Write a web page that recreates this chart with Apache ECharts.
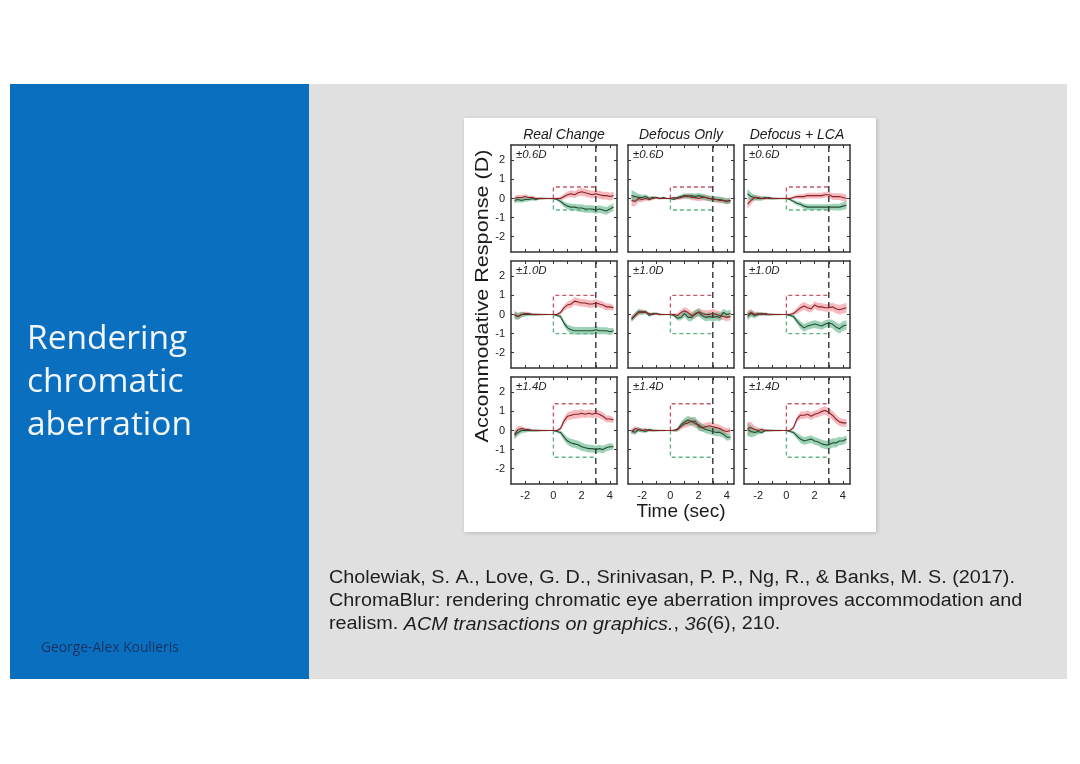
<!DOCTYPE html>
<html><head><meta charset="utf-8">
<script src="https://cdn.jsdelivr.net/npm/echarts@6/dist/echarts.min.js"></script>
<style>html,body{margin:0;padding:0;background:#fff;}#c{width:1080px;height:764px;}</style>
</head><body><div id="c"></div>
<script>
// ---------- data ----------
const times = [-2.75, -2.5, -2.25, -2, -1.75, -1.5, -1.25, -1, -0.75, -0.5, -0.25, 0, 0.25, 0.5, 0.75, 1, 1.25, 1.5, 1.75, 2, 2.25, 2.5, 2.75, 3, 3.25, 3.5, 3.75, 4, 4.25];
const conditions = ['Real Change', 'Defocus Only', 'Defocus + LCA'];
const amplitudes = [0.6, 1.0, 1.4];
const amplitudeLabels = ['±0.6D', '±1.0D', '±1.4D'];
const xTickValues = [-2, -1, 0, 1, 2, 3, 4];
const xLabelValues = [-2, 0, 2, 4];
const yTickValues = [-2, -1, 0, 1, 2];
const stimulusEnd = 3;
const yTitle = 'Accommodative Response (D)';
const xTitle = 'Time (sec)';
const slideTitle = 'Rendering\nchromatic\naberration';
const author = 'George-Alex Koulieris';

// Row ±0.6D
const red_real_06   = [0.0, 0.05, 0.05, 0.1, 0.05, 0.05, 0.0, 0.0, 0.0, 0.0, 0.0, 0.0, 0.0, 0.0, 0.1, 0.2, 0.25, 0.2, 0.3, 0.35, 0.3, 0.25, 0.2, 0.25, 0.2, 0.15, 0.15, 0.1, 0.15];
const green_real_06 = [-0.1, -0.05, -0.1, -0.05, -0.05, 0.0, -0.05, 0.0, 0.0, 0.0, 0.0, 0.0, -0.05, -0.15, -0.3, -0.4, -0.45, -0.45, -0.5, -0.5, -0.55, -0.55, -0.55, -0.6, -0.55, -0.6, -0.65, -0.55, -0.45];
const band_real_06  = [0.15, 0.15, 0.12, 0.12, 0.1, 0.1, 0.08, 0.06, 0.05, 0.04, 0.04, 0.04, 0.06, 0.1, 0.14, 0.16, 0.18, 0.18, 0.18, 0.2, 0.2, 0.2, 0.2, 0.2, 0.2, 0.2, 0.2, 0.2, 0.2];
const red_defocus_06   = [-0.1, -0.15, 0.0, -0.05, 0.0, -0.05, 0.0, 0.05, 0.0, 0.0, 0.0, 0.0, 0.05, 0.0, 0.05, 0.1, 0.15, 0.05, 0.05, 0.0, 0.05, 0.05, 0.0, -0.05, -0.05, -0.1, -0.1, -0.15, -0.1];
const green_defocus_06 = [0.15, 0.1, 0.05, 0.05, 0.1, 0.0, 0.05, 0.05, 0.0, 0.05, 0.0, 0.0, -0.05, 0.05, 0.1, 0.15, 0.1, 0.15, 0.1, 0.15, 0.1, 0.05, 0.0, 0.0, -0.05, -0.05, -0.1, -0.15, -0.1];
const band_defocus_06  = [0.3, 0.25, 0.18, 0.14, 0.12, 0.1, 0.08, 0.06, 0.05, 0.04, 0.04, 0.04, 0.06, 0.08, 0.1, 0.12, 0.14, 0.14, 0.15, 0.15, 0.15, 0.15, 0.15, 0.15, 0.15, 0.15, 0.15, 0.15, 0.15];
const red_lca_06   = [-0.3, -0.1, 0.05, 0.05, 0.0, 0.0, 0.05, 0.0, 0.0, 0.0, 0.0, 0.0, 0.0, 0.05, 0.1, 0.1, 0.1, 0.15, 0.15, 0.15, 0.15, 0.15, 0.2, 0.2, 0.1, 0.1, 0.1, 0.05, 0.0];
const green_lca_06 = [0.25, 0.1, 0.05, 0.0, 0.0, 0.05, 0.0, 0.0, 0.0, 0.0, 0.0, 0.0, -0.05, -0.15, -0.25, -0.3, -0.4, -0.45, -0.45, -0.45, -0.45, -0.45, -0.45, -0.45, -0.45, -0.45, -0.45, -0.4, -0.35];
const band_lca_06  = [0.25, 0.2, 0.15, 0.12, 0.1, 0.08, 0.07, 0.06, 0.05, 0.04, 0.04, 0.04, 0.06, 0.08, 0.1, 0.12, 0.14, 0.15, 0.15, 0.15, 0.15, 0.15, 0.15, 0.15, 0.17, 0.18, 0.18, 0.2, 0.2];

// Row ±1.0D
const red_real_10   = [0.0, -0.1, 0.0, 0.05, 0.05, 0.0, 0.0, 0.0, 0.0, 0.0, 0.0, 0.0, 0.0, 0.1, 0.35, 0.5, 0.55, 0.7, 0.65, 0.6, 0.6, 0.55, 0.55, 0.6, 0.55, 0.5, 0.4, 0.4, 0.35];
const green_real_10 = [-0.05, -0.1, 0.0, 0.0, 0.0, 0.0, 0.0, 0.0, 0.0, 0.0, 0.0, 0.0, -0.05, -0.1, -0.45, -0.7, -0.8, -0.85, -0.85, -0.85, -0.85, -0.85, -0.85, -0.8, -0.85, -0.85, -0.85, -0.9, -0.85];
const band_real_10  = [0.2, 0.18, 0.14, 0.1, 0.08, 0.07, 0.06, 0.05, 0.04, 0.04, 0.03, 0.03, 0.05, 0.1, 0.15, 0.18, 0.2, 0.2, 0.2, 0.2, 0.2, 0.2, 0.2, 0.2, 0.18, 0.18, 0.18, 0.18, 0.15];
const red_defocus_10   = [-0.2, -0.05, 0.1, 0.15, 0.1, 0.05, 0.0, 0.05, 0.0, 0.0, 0.0, 0.0, 0.0, -0.05, 0.1, 0.2, 0.1, -0.05, 0.0, 0.15, 0.05, 0.0, 0.0, 0.05, 0.0, -0.05, -0.1, -0.15, -0.1];
const green_defocus_10 = [-0.25, -0.05, 0.15, 0.1, 0.15, -0.05, 0.05, 0.05, 0.0, 0.0, 0.0, 0.0, -0.05, -0.2, -0.15, 0.05, -0.15, -0.15, 0.05, 0.1, -0.05, -0.15, -0.1, -0.15, -0.1, -0.15, 0.1, 0.0, 0.05];
const band_defocus_10  = [0.15, 0.15, 0.15, 0.12, 0.1, 0.08, 0.07, 0.06, 0.05, 0.04, 0.03, 0.03, 0.06, 0.12, 0.15, 0.18, 0.2, 0.2, 0.2, 0.2, 0.2, 0.22, 0.22, 0.22, 0.22, 0.22, 0.2, 0.2, 0.2];
const red_lca_10   = [0.0, 0.1, 0.0, 0.05, 0.0, 0.05, 0.0, 0.0, 0.0, 0.0, 0.0, 0.0, 0.0, 0.05, 0.2, 0.35, 0.45, 0.35, 0.3, 0.5, 0.4, 0.4, 0.35, 0.35, 0.4, 0.3, 0.25, 0.3, 0.35];
const green_lca_10 = [-0.1, 0.05, -0.05, 0.0, 0.05, 0.0, 0.0, 0.0, 0.0, 0.0, 0.0, 0.0, -0.05, -0.1, -0.35, -0.55, -0.7, -0.6, -0.55, -0.5, -0.55, -0.6, -0.5, -0.45, -0.5, -0.65, -0.75, -0.6, -0.55];
const band_lca_10  = [0.2, 0.18, 0.14, 0.1, 0.08, 0.07, 0.06, 0.05, 0.04, 0.04, 0.03, 0.03, 0.05, 0.1, 0.15, 0.2, 0.2, 0.2, 0.2, 0.2, 0.2, 0.2, 0.2, 0.2, 0.22, 0.24, 0.25, 0.25, 0.25];

// Row ±1.4D
const red_real_14   = [-0.2, 0.05, 0.1, 0.05, 0.05, 0.0, 0.0, 0.0, 0.0, 0.0, 0.0, 0.0, 0.0, 0.1, 0.5, 0.75, 0.8, 0.85, 0.85, 0.9, 0.85, 0.9, 0.85, 0.9, 0.85, 0.75, 0.6, 0.6, 0.55];
const green_real_14 = [-0.25, -0.1, 0.0, 0.0, 0.0, 0.0, 0.0, 0.0, 0.0, 0.0, 0.0, 0.0, -0.05, -0.1, -0.35, -0.55, -0.65, -0.7, -0.75, -0.85, -0.9, -0.95, -0.95, -1.0, -0.95, -1.0, -0.9, -0.85, -0.85];
const band_real_14  = [0.22, 0.18, 0.14, 0.1, 0.08, 0.07, 0.06, 0.05, 0.04, 0.04, 0.03, 0.03, 0.05, 0.1, 0.18, 0.2, 0.22, 0.22, 0.22, 0.22, 0.2, 0.2, 0.2, 0.2, 0.2, 0.2, 0.18, 0.18, 0.15];
const red_defocus_14   = [-0.1, 0.1, 0.05, 0.0, 0.05, 0.0, 0.0, 0.0, 0.0, 0.0, 0.0, 0.0, 0.0, 0.05, 0.2, 0.35, 0.4, 0.5, 0.35, 0.3, 0.15, 0.2, 0.25, 0.2, 0.15, 0.1, 0.0, -0.05, 0.0];
const green_defocus_14 = [0.0, -0.1, 0.05, 0.0, -0.05, 0.05, 0.0, 0.0, 0.0, 0.0, 0.0, 0.0, 0.0, 0.05, 0.3, 0.45, 0.55, 0.45, 0.5, 0.2, 0.15, 0.05, 0.0, -0.05, -0.1, -0.1, -0.2, -0.35, -0.35];
const band_defocus_14  = [0.15, 0.14, 0.12, 0.1, 0.08, 0.07, 0.06, 0.05, 0.04, 0.04, 0.03, 0.03, 0.05, 0.1, 0.15, 0.2, 0.22, 0.22, 0.22, 0.22, 0.2, 0.2, 0.2, 0.2, 0.2, 0.2, 0.18, 0.18, 0.15];
const red_lca_14   = [0.1, 0.15, 0.05, 0.0, 0.05, 0.0, 0.0, 0.0, 0.0, 0.0, 0.0, 0.0, 0.0, 0.15, 0.6, 0.8, 0.8, 0.85, 0.75, 0.85, 0.9, 1.0, 1.05, 0.95, 0.8, 0.6, 0.45, 0.4, 0.4];
const green_lca_14 = [0.05, -0.05, -0.1, -0.05, -0.1, 0.0, 0.0, 0.0, 0.0, 0.0, 0.0, 0.0, -0.05, -0.1, -0.3, -0.45, -0.55, -0.5, -0.45, -0.55, -0.6, -0.7, -0.75, -0.75, -0.65, -0.65, -0.55, -0.55, -0.45];
const band_lca_14  = [0.35, 0.3, 0.2, 0.14, 0.1, 0.08, 0.06, 0.05, 0.04, 0.04, 0.03, 0.03, 0.05, 0.1, 0.15, 0.2, 0.2, 0.2, 0.2, 0.2, 0.2, 0.22, 0.22, 0.24, 0.24, 0.24, 0.22, 0.2, 0.2];

const panelData = [
  [red_real_06, green_real_06, band_real_06], [red_defocus_06, green_defocus_06, band_defocus_06], [red_lca_06, green_lca_06, band_lca_06],
  [red_real_10, green_real_10, band_real_10], [red_defocus_10, green_defocus_10, band_defocus_10], [red_lca_10, green_lca_10, band_lca_10],
  [red_real_14, green_real_14, band_real_14], [red_defocus_14, green_defocus_14, band_defocus_14], [red_lca_14, green_lca_14, band_lca_14]
];

// ---------- layout & style ----------
const colLeft = [511, 628, 744];
const rowTop = [145, 261, 377];
const PW = 106, PH = 107;
const X_MIN = -3, X_MAX = 4.5, Y_MIN = -2.8, Y_MAX = 2.8;
const AX = '#333333';
const FONT = '"Liberation Sans", Arial, sans-serif';

const grids = [], xAxes = [], yAxes = [], series = [], graphics = [];

function bandSeries(p, mean, band, color) {
  const rows = times.map((t, i) => [t, mean[i] - band[i], mean[i] + band[i]]);
  return {
    type: 'custom', xAxisIndex: 2 * p, yAxisIndex: 2 * p, silent: true, z: 2,
    data: rows, encode: { x: 0, y: [1, 2] },
    renderItem: function (params, api) {
      if (params.dataIndex !== 0) return null;
      const pts = [];
      for (let i = 0; i < rows.length; i++) pts.push(api.coord([rows[i][0], rows[i][2]]));
      for (let i = rows.length - 1; i >= 0; i--) pts.push(api.coord([rows[i][0], rows[i][1]]));
      return { type: 'polygon', shape: { points: pts }, style: { fill: color } };
    }
  };
}

for (let r = 0; r < 3; r++) {
  for (let c = 0; c < 3; c++) {
    const p = r * 3 + c;
    const [red, green, band] = panelData[p];
    const amp = amplitudes[r];
    grids.push({ left: colLeft[c], top: rowTop[r], width: PW, height: PH, containLabel: false });
    const axLine = { show: true, onZero: false, lineStyle: { color: AX, width: 1.5 } };
    const tickStyle = { color: AX, width: 1 };
    xAxes.push({
      gridIndex: p, type: 'value', position: 'bottom', min: X_MIN, max: X_MAX,
      axisLine: axLine, splitLine: { show: false },
      axisTick: { show: true, inside: true, length: 3, customValues: xTickValues, lineStyle: tickStyle },
      axisLabel: { show: r === 2, customValues: xLabelValues, color: '#222', fontSize: 11, fontFamily: FONT, margin: 6 }
    });
    xAxes.push({
      gridIndex: p, type: 'value', position: 'top', min: X_MIN, max: X_MAX,
      axisLine: axLine, splitLine: { show: false },
      axisTick: { show: true, inside: true, length: 3, customValues: xTickValues, lineStyle: tickStyle },
      axisLabel: { show: false }
    });
    yAxes.push({
      gridIndex: p, type: 'value', position: 'left', min: Y_MIN, max: Y_MAX,
      axisLine: axLine, splitLine: { show: false },
      axisTick: { show: true, inside: true, length: 3, customValues: yTickValues, lineStyle: tickStyle },
      axisLabel: { show: c === 0, customValues: yTickValues, color: '#222', fontSize: 11, fontFamily: FONT, margin: 6 }
    });
    yAxes.push({
      gridIndex: p, type: 'value', position: 'right', min: Y_MIN, max: Y_MAX,
      axisLine: axLine, splitLine: { show: false },
      axisTick: { show: true, inside: true, length: 3, customValues: yTickValues, lineStyle: tickStyle },
      axisLabel: { show: false }
    });
    const ax = { xAxisIndex: 2 * p, yAxisIndex: 2 * p };
    series.push(bandSeries(p, red, band, 'rgba(238,115,125,0.5)'));
    series.push(bandSeries(p, green, band, 'rgba(60,165,110,0.5)'));
    series.push(Object.assign({
      type: 'line', data: [[0, 0], [0, amp], [stimulusEnd, amp]], symbol: 'none', silent: true, z: 3,
      lineStyle: { color: '#c45a68', width: 1.4, type: [4, 3] }
    }, ax));
    series.push(Object.assign({
      type: 'line', data: [[0, 0], [0, -amp], [stimulusEnd, -amp]], symbol: 'none', silent: true, z: 3,
      lineStyle: { color: '#5fb585', width: 1.4, type: [4, 3] }
    }, ax));
    series.push(Object.assign({
      type: 'line', data: [[stimulusEnd, Y_MIN], [stimulusEnd, Y_MAX]], symbol: 'none', silent: true, z: 3,
      lineStyle: { color: '#333', width: 1.4, type: [6, 4] }
    }, ax));
    series.push(Object.assign({
      type: 'line', data: times.map((t, i) => [t, green[i]]), symbol: 'none', silent: true, z: 4,
      lineStyle: { color: '#244f35', width: 1.1 }
    }, ax));
    series.push(Object.assign({
      type: 'line', data: times.map((t, i) => [t, red[i]]), symbol: 'none', silent: true, z: 4,
      lineStyle: { color: '#8a2228', width: 1.1 }
    }, ax));
    graphics.push({
      type: 'text', x: colLeft[c] + 5, y: rowTop[r] + 10, z: 50,
      style: { text: amplitudeLabels[r], font: 'italic 11.5px ' + FONT, fill: '#222', verticalAlign: 'middle', align: 'left' }
    });
  }
}
conditions.forEach((name, c) => {
  graphics.push({
    type: 'text', x: colLeft[c] + PW / 2, y: 135, z: 50,
    style: { text: name, font: 'italic 14px ' + FONT, fill: '#1a1a1a', align: 'center', verticalAlign: 'middle' }
  });
});
graphics.push({
  type: 'text', x: 483, y: 296, rotation: Math.PI / 2, scaleX: 1.2, z: 50,
  style: { text: yTitle, font: '18px ' + FONT, fill: '#1a1a1a', align: 'center', verticalAlign: 'middle' }
});
graphics.push({
  type: 'text', x: 681, y: 512, z: 50,
  style: { text: xTitle, font: '19px ' + FONT, fill: '#1a1a1a', align: 'center', verticalAlign: 'middle' }
});

const slide = [
  { type: 'rect', z: -30, shape: { x: 10, y: 84, width: 1057, height: 595 }, style: { fill: '#e0e0e0' } },
  { type: 'rect', z: -29, shape: { x: 10, y: 84, width: 299, height: 595 }, style: { fill: '#0b6fc0' } },
  { type: 'rect', z: -28, shape: { x: 464, y: 118, width: 412, height: 414 }, style: { fill: '#ffffff', shadowBlur: 4, shadowColor: 'rgba(0,0,0,0.18)', shadowOffsetX: 1, shadowOffsetY: 1 } },
  { type: 'text', z: 50, x: 27, y: 318, style: { text: slideTitle, font: '33.5px "Open Sans", sans-serif', lineHeight: 43, fill: '#f2f6fb', align: 'left', verticalAlign: 'top' } },
  { type: 'text', z: 50, x: 41, y: 648, style: { text: author, font: '13.8px "Open Sans", sans-serif', fill: '#17335f', align: 'left', verticalAlign: 'middle' } },
  { type: 'text', z: 50, x: 329, y: 567, scaleX: 1.1, style: {
      text: '{n|Cholewiak, S. A., Love, G. D., Srinivasan, P. P., Ng, R., & Banks, M. S. (2017).}\n{n|ChromaBlur: rendering chromatic eye aberration improves accommodation and}\n{n|realism. }{i|ACM transactions on graphics.}{n|, }{i|36}{n|(6), 210.}',
      align: 'left', verticalAlign: 'top',
      rich: {
        n: { font: '18px ' + FONT, fill: '#1e1e1e', lineHeight: 23 },
        i: { font: 'italic 18px ' + FONT, fill: '#1e1e1e', lineHeight: 23 }
      }
  } }
];

const chart = echarts.init(document.getElementById('c'), null, { renderer: 'canvas', width: 1080, height: 764 });
chart.setOption({
  backgroundColor: '#ffffff',
  animation: false,
  grid: grids, xAxis: xAxes, yAxis: yAxes, series: series,
  graphic: { elements: slide.concat(graphics) }
});
</script>
</body></html>
